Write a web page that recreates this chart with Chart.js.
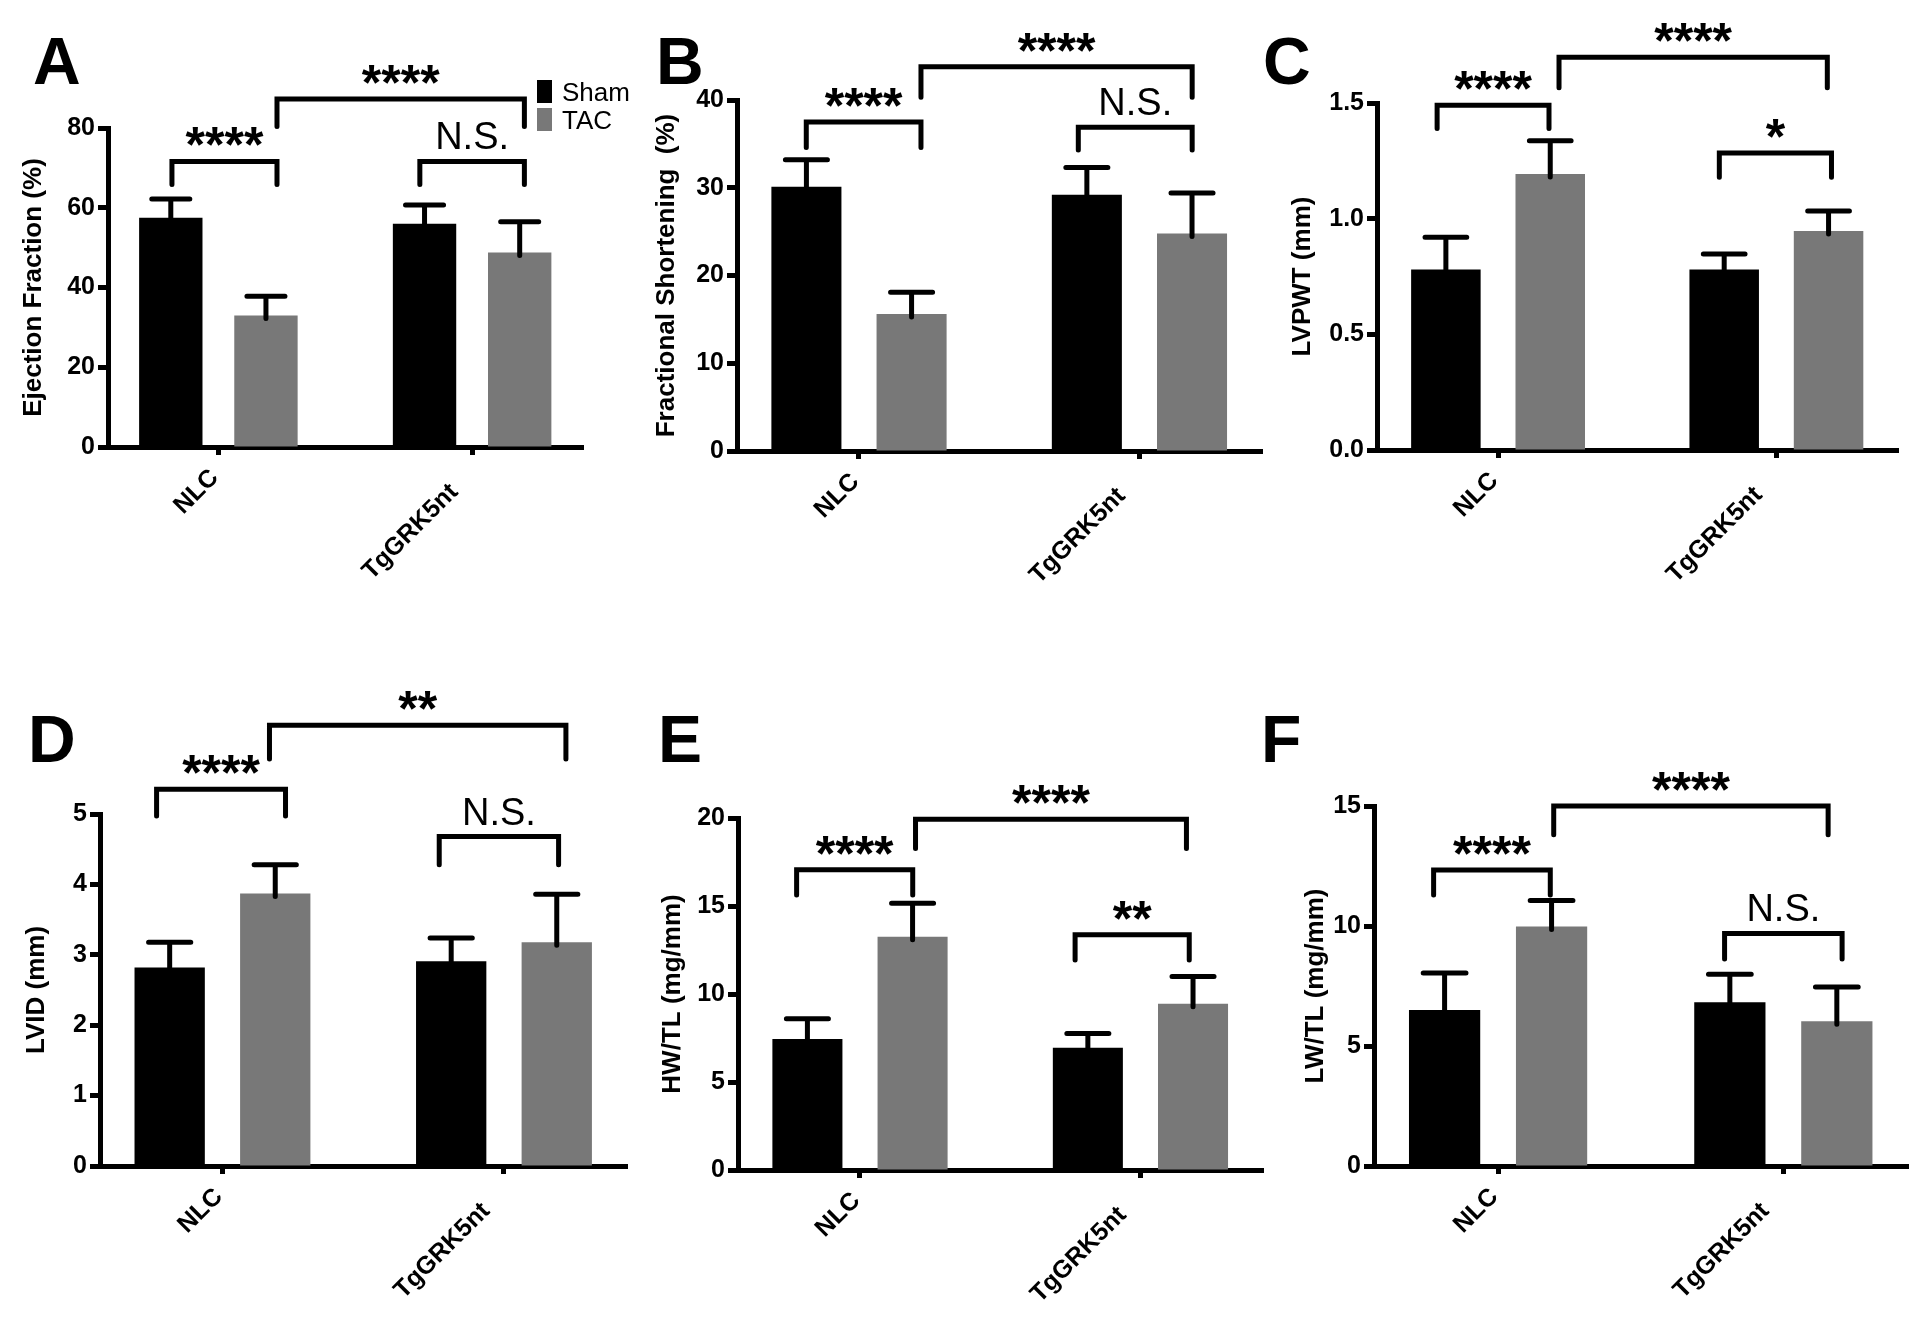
<!DOCTYPE html>
<html>
<head>
<meta charset="utf-8">
<title>Echo panels</title>
<script src="https://cdn.jsdelivr.net/npm/chart.js@4.4.1/dist/chart.umd.min.js"></script>
<style>
  html, body { margin: 0; padding: 0; background: #fff; overflow: hidden; }
  #board { position: relative; width: 1920px; height: 1321px; background: #fff; overflow: hidden; }
  #board canvas { position: absolute; }
  .tag { position: absolute; font: bold 66px "Liberation Sans", Arial, sans-serif; line-height: 66px; color: #000; }
</style>
</head>
<body>
<div id="board">
  <div class="tag" style="left:33px;top:28px">A</div>
  <div class="tag" style="left:656px;top:28px">B</div>
  <div class="tag" style="left:1263px;top:28px">C</div>
  <div class="tag" style="left:28px;top:706px">D</div>
  <div class="tag" style="left:658px;top:706px">E</div>
  <div class="tag" style="left:1261px;top:706px">F</div>
</div>
<script>
// ===============================
// DATA
// ===============================
const groups = ['NLC', 'TgGRK5nt'];
const seriesNames = ['Sham', 'TAC'];

// A - ejection fraction (%)
const efSham = [57.5, 56.0];
const efShamErr = [4.7, 4.7];
const efTac = [33.0, 48.8];
const efTacErr = [4.8, 7.7];

// B - fractional shortening (%)
const fsSham = [30.1, 29.2];
const fsShamErr = [3.1, 3.1];
const fsTac = [15.6, 24.8];
const fsTacErr = [2.5, 4.6];

// C - LVPWT (mm)
const pwSham = [0.78, 0.78];
const pwShamErr = [0.14, 0.067];
const pwTac = [1.193, 0.947];
const pwTacErr = [0.144, 0.086];

// D - LVID (mm)
const lvSham = [2.82, 2.91];
const lvShamErr = [0.36, 0.33];
const lvTac = [3.87, 3.18];
const lvTacErr = [0.41, 0.68];

// E - HW/TL (mg/mm)
const hwSham = [7.45, 6.95];
const hwShamErr = [1.15, 0.8];
const hwTac = [13.25, 9.45];
const hwTacErr = [1.9, 1.55];

// F - LW/TL (mg/mm)
const lwSham = [6.5, 6.82];
const lwShamErr = [1.54, 1.17];
const lwTac = [9.98, 6.03];
const lwTacErr = [1.08, 1.43];

// significance brackets: [from, to, line value, leg value, label]
const efBrackets = [[-0.183, 0.231, 71.6, 65.8, '****'], [0.231, 1.206, 87.3, 80.4, '****'], [0.794, 1.206, 71.6, 65.8, 'N.S.']];
const fsBrackets = [[-0.188, 0.221, 37.5, 34.6, '****'], [0.221, 1.188, 43.8, 40.3, '****'], [0.782, 1.188, 36.9, 34.3, 'N.S.']];
const pwBrackets = [[-0.219, 0.183, 1.49, 1.39, '****'], [0.219, 1.183, 1.698, 1.566, '****'], [0.795, 1.198, 1.284, 1.179, '*']];
const lvBrackets = [[-0.234, 0.224, 5.35, 4.97, '****'], [0.167, 1.220, 6.26, 5.78, '**'], [0.770, 1.194, 4.68, 4.28, 'N.S.']];
const hwBrackets = [[-0.226, 0.188, 17.06, 15.63, '****'], [0.198, 1.164, 19.93, 18.26, '****'], [0.767, 1.174, 13.37, 11.93, '**']];
const lwBrackets = [[-0.226, 0.183, 12.33, 11.29, '****'], [0.195, 1.157, 15.0, 13.8, '****'], [0.794, 1.206, 9.69, 8.63, 'N.S.']];

// y axis ranges
const yMax = [80, 40, 1.5, 5, 20, 15];
const yStep = [20, 10, 0.5, 1, 5, 5];

// ===============================
// LAYOUT
// ===============================
const FONT = '"Liberation Sans", Arial, sans-serif';
const SHAM_COLOR = '#000000';
const TAC_COLOR = '#787878';
const YW = 110, PT = 140, XH = 160;

const panels = [
  { id: 'A', title: 'Ejection Fraction (%)', sham: efSham, shamErr: efShamErr, tac: efTac, tacErr: efTacErr, brackets: efBrackets, digits: 0, legend: true,
    frame: { axisX: 108, right: 583, top: 128, zero: 447, titleGap: 74 } },
  { id: 'B', title: 'Fractional Shortening  (%)', sham: fsSham, shamErr: fsShamErr, tac: fsTac, tacErr: fsTacErr, brackets: fsBrackets, digits: 0,
    frame: { axisX: 737, right: 1262, top: 100, zero: 451, titleGap: 70 } },
  { id: 'C', title: 'LVPWT (mm)', sham: pwSham, shamErr: pwShamErr, tac: pwTac, tacErr: pwTacErr, brackets: pwBrackets, digits: 1,
    frame: { axisX: 1377, right: 1898, top: 103, zero: 450, titleGap: 74 } },
  { id: 'D', title: 'LVID (mm)', sham: lvSham, shamErr: lvShamErr, tac: lvTac, tacErr: lvTacErr, brackets: lvBrackets, digits: 0,
    frame: { axisX: 100, right: 627, top: 814, zero: 1166, titleGap: 63 } },
  { id: 'E', title: 'HW/TL (mg/mm)', sham: hwSham, shamErr: hwShamErr, tac: hwTac, tacErr: hwTacErr, brackets: hwBrackets, digits: 0,
    frame: { axisX: 738, right: 1263, top: 818, zero: 1170, titleGap: 65 } },
  { id: 'F', title: 'LW/TL (mg/mm)', sham: lwSham, shamErr: lwShamErr, tac: lwTac, tacErr: lwTacErr, brackets: lwBrackets, digits: 0,
    frame: { axisX: 1374, right: 1908, top: 806, zero: 1166, titleGap: 58 } }
];

// error bars, brackets, legend and slanted group labels
function makeDecor(p) {
  return {
    id: 'decor' + p.id,
    afterDatasetsDraw(chart) {
      const ctx = chart.ctx;
      const xs = chart.scales.x, ys = chart.scales.y;
      ctx.save();
      ctx.strokeStyle = '#000';
      ctx.lineWidth = 5;
      ctx.lineCap = 'round';
      ctx.lineJoin = 'miter';

      // error bars (upper only)
      chart.data.datasets.forEach((ds, di) => {
        chart.getDatasetMeta(di).data.forEach((bar, i) => {
          const top = ys.getPixelForValue(ds.data[i].y + ds.err[i]);
          const half = bar.width * 0.3;
          ctx.beginPath();
          ctx.moveTo(bar.x, bar.y + 3);
          ctx.lineTo(bar.x, top);
          ctx.moveTo(bar.x - half, top);
          ctx.lineTo(bar.x + half, top);
          ctx.stroke();
        });
      });

      // brackets
      ctx.fillStyle = '#000';
      ctx.textAlign = 'center';
      ctx.textBaseline = 'alphabetic';
      p.brackets.forEach(b => {
        const x1 = xs.getPixelForValue(b[0]);
        const x2 = xs.getPixelForValue(b[1]);
        const yl = ys.getPixelForValue(b[2]);
        const yg = ys.getPixelForValue(b[3]);
        ctx.beginPath();
        ctx.moveTo(x1, yg);
        ctx.lineTo(x1, yl);
        ctx.lineTo(x2, yl);
        ctx.lineTo(x2, yg);
        ctx.stroke();
        const cx = (x1 + x2) / 2;
        if (b[4] === 'N.S.') {
          ctx.font = '38px ' + FONT;
          ctx.fillText(b[4], cx, yl - 12);
        } else {
          ctx.font = 'bold 50px ' + FONT;
          ctx.fillText(b[4], cx, yl + 1);
        }
      });

      // legend
      if (p.legend) {
        const ca = chart.chartArea;
        ctx.textAlign = 'left';
        ctx.font = '26px ' + FONT;
        chart.data.datasets.forEach((ds, di) => {
          const by = ca.top - 48 + di * 28;
          ctx.fillStyle = ds.backgroundColor;
          ctx.fillRect(ca.right - 46, by, 15, 23);
          ctx.fillStyle = '#000';
          ctx.fillText(ds.label, ca.right - 21, by + 21);
        });
      }
      ctx.restore();
    },
    afterDraw(chart) {
      // group labels at 45 degrees, ending just under each tick
      const ctx = chart.ctx;
      const xs = chart.scales.x;
      const base = chart.chartArea.bottom + 16;
      ctx.save();
      ctx.fillStyle = '#000';
      ctx.font = 'bold 25px ' + FONT;
      ctx.textAlign = 'right';
      ctx.textBaseline = 'middle';
      groups.forEach((g, i) => {
        const px = xs.getPixelForValue(i);
        const w = ctx.measureText(g).width;
        const s = Math.max(0, 0.28 * w - 14) * Math.SQRT1_2;
        ctx.save();
        ctx.translate(px - s - 14, base + s);
        ctx.rotate(-Math.PI / 4);
        ctx.fillText(g, 0, 15);
        ctx.restore();
      });
      ctx.restore();
    }
  };
}

const board = document.getElementById('board');

panels.forEach((p, k) => {
  const f = p.frame;
  const PR = Math.min(60, 1918 - f.right);
  const w = YW + (f.right - f.axisX) + PR;
  const h = PT + (f.zero - f.top) + XH;
  const canvas = document.createElement('canvas');
  canvas.width = w;
  canvas.height = h;
  canvas.style.left = (f.axisX - YW) + 'px';
  canvas.style.top = (f.top - PT) + 'px';
  canvas.style.width = w + 'px';
  canvas.style.height = h + 'px';
  board.appendChild(canvas);

  new Chart(canvas, {
    type: 'bar',
    data: {
      datasets: [
        { label: seriesNames[0], data: p.sham.map((v, i) => ({ x: i, y: v })), err: p.shamErr, backgroundColor: SHAM_COLOR, borderWidth: 0 },
        { label: seriesNames[1], data: p.tac.map((v, i) => ({ x: i, y: v })), err: p.tacErr, backgroundColor: TAC_COLOR, borderWidth: 0 }
      ]
    },
    options: {
      responsive: false,
      maintainAspectRatio: false,
      animation: false,
      devicePixelRatio: 1,
      categoryPercentage: 0.75,
      barPercentage: 0.666,
      layout: { padding: { top: PT, right: PR, left: 0, bottom: 0 } },
      plugins: { legend: { display: false }, tooltip: { enabled: false } },
      scales: {
        x: {
          type: 'linear',
          min: -0.435,
          max: 1.437,
          offset: false,
          z: 1,
          afterBuildTicks: s => { s.ticks = groups.map((g, i) => ({ value: i })); },
          afterFit: s => { s.height = XH; },
          ticks: { display: false },
          grid: { display: true, drawOnChartArea: false, drawTicks: true, tickLength: 8, tickWidth: 5, tickColor: '#000', offset: false },
          border: { display: true, color: '#000', width: 5 }
        },
        y: {
          min: 0,
          max: yMax[k],
          z: 1,
          afterFit: s => { s.width = YW; },
          ticks: {
            stepSize: yStep[k],
            padding: 3,
            color: '#000',
            font: { family: FONT, size: 25, weight: 'bold' },
            callback: v => Number(v).toFixed(p.digits)
          },
          grid: { display: true, drawOnChartArea: false, drawTicks: true, tickLength: 10, tickWidth: 5, tickColor: '#000' },
          border: { display: true, color: '#000', width: 5 },
          title: {
            display: true,
            text: p.title,
            color: '#000',
            font: { family: FONT, size: 26, weight: 'bold' },
            padding: { top: YW - f.titleGap - 15.6, bottom: 0 }
          }
        }
      }
    },
    plugins: [makeDecor(p)]
  });
});
</script>
</body>
</html>
